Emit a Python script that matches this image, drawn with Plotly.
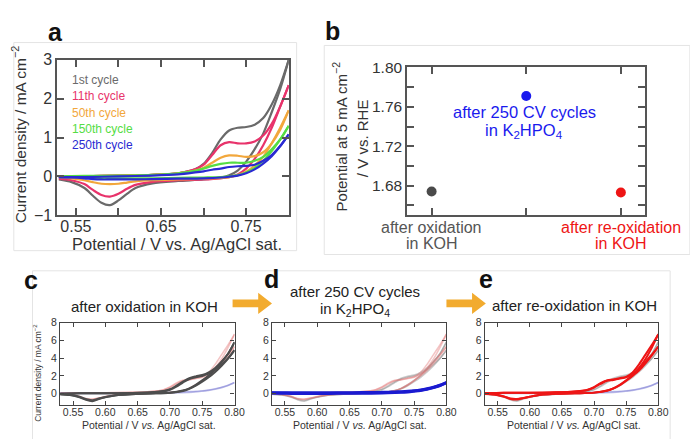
import plotly.graph_objects as go

W, H = 690, 439
FONT = "Liberation Sans, Arial, Helvetica, sans-serif"

# ---------------- data ----------------
# shared potential grids (V vs Ag/AgCl): forward and reverse sweeps
E_FWD = [0.53, 0.56, 0.60, 0.64, 0.67, 0.69, 0.70, 0.71, 0.72, 0.73, 0.74, 0.75, 0.76, 0.77, 0.78, 0.79, 0.80]
E_REV = [0.80, 0.79, 0.78, 0.77, 0.76, 0.75, 0.74, 0.73, 0.72, 0.70, 0.67, 0.64, 0.62, 0.61, 0.60, 0.59, 0.58, 0.57, 0.56, 0.545, 0.53]

# panel a: CV cycles in K2HPO4 (mA cm-2)
cycle_labels = ["1st cycle", "11th cycle", "50th cycle", "150th cycle", "250th cycle"]
cyc1_fwd = [-0.02, 0.0, 0.02, 0.04, 0.08, 0.18, 0.32, 0.6, 0.95, 1.18, 1.25, 1.27, 1.33, 1.5, 1.85, 2.35, 3.0]
cyc1_rev = [3.0, 2.25, 1.65, 1.1, 0.7, 0.38, 0.15, 0.03, -0.03, -0.08, -0.12, -0.18, -0.3, -0.45, -0.62, -0.74, -0.68, -0.5, -0.3, -0.15, -0.08]
cyc11_fwd = [-0.03, 0.0, 0.02, 0.04, 0.08, 0.18, 0.3, 0.55, 0.8, 0.88, 0.85, 0.85, 0.9, 1.05, 1.35, 1.8, 2.35]
cyc11_rev = [2.35, 1.8, 1.25, 0.8, 0.45, 0.2, 0.05, -0.02, -0.05, -0.08, -0.1, -0.14, -0.22, -0.32, -0.45, -0.52, -0.48, -0.35, -0.2, -0.1, -0.06]
cyc50_fwd = [-0.02, 0.0, 0.02, 0.04, 0.08, 0.15, 0.22, 0.35, 0.48, 0.54, 0.53, 0.5, 0.52, 0.62, 0.85, 1.2, 1.7]
cyc50_rev = [1.7, 1.25, 0.85, 0.5, 0.28, 0.12, 0.03, -0.02, -0.04, -0.06, -0.08, -0.1, -0.13, -0.16, -0.19, -0.2, -0.19, -0.15, -0.1, -0.05, -0.03]
cyc150_fwd = [0.0, 0.01, 0.02, 0.04, 0.08, 0.14, 0.2, 0.27, 0.32, 0.35, 0.35, 0.35, 0.4, 0.5, 0.7, 0.95, 1.3]
cyc150_rev = [1.3, 0.95, 0.65, 0.4, 0.22, 0.1, 0.03, 0.0, -0.02, -0.03, -0.04, -0.05, -0.05, -0.05, -0.05, -0.05, -0.05, -0.04, -0.02, 0.0, 0.0]
cyc250_fwd = [-0.02, -0.02, 0.0, 0.02, 0.05, 0.1, 0.13, 0.17, 0.2, 0.24, 0.26, 0.27, 0.3, 0.4, 0.55, 0.78, 1.08]
cyc250_rev = [1.08, 0.78, 0.52, 0.33, 0.18, 0.08, 0.02, -0.01, -0.03, -0.05, -0.06, -0.07, -0.08, -0.08, -0.08, -0.08, -0.08, -0.07, -0.05, -0.03, -0.02]

# panel b: potential at 5 mA cm-2 (V vs RHE)
b_categories = [["after oxidation", "in KOH"],
                ["after 250 CV cycles", "in K<sub>2</sub>HPO<sub>4</sub>"],
                ["after re-oxidation", "in KOH"]]
b_potential = [1.674, 1.771, 1.673]

# panels c-e: CVs (mA cm-2)
koh1_fwd = [0.0, 0.05, 0.05, 0.08, 0.15, 0.3, 0.5, 0.9, 1.35, 1.75, 1.95, 2.1, 2.4, 2.9, 3.6, 4.5, 5.8]
koh1_rev = [5.8, 4.5, 3.6, 2.75, 2.05, 1.5, 1.0, 0.6, 0.35, 0.1, 0.02, -0.05, -0.15, -0.25, -0.4, -0.6, -0.85, -0.7, -0.4, -0.15, -0.05]
koh2_fwd = [0.0, 0.05, 0.05, 0.08, 0.14, 0.27, 0.45, 0.8, 1.25, 1.65, 1.85, 2.0, 2.25, 2.7, 3.3, 4.0, 4.9]
koh2_rev = [4.9, 3.95, 3.15, 2.45, 1.85, 1.35, 0.9, 0.55, 0.3, 0.1, 0.02, -0.05, -0.15, -0.25, -0.38, -0.55, -0.75, -0.6, -0.35, -0.12, -0.05]
phos_fwd = [0.1, 0.1, 0.1, 0.1, 0.12, 0.13, 0.15, 0.17, 0.2, 0.23, 0.27, 0.33, 0.42, 0.55, 0.72, 0.95, 1.25]
phos_rev = [1.25, 0.92, 0.68, 0.5, 0.37, 0.28, 0.2, 0.15, 0.12, 0.08, 0.05, 0.04, 0.03, 0.03, 0.02, 0.02, 0.02, 0.02, 0.03, 0.05, 0.08]
reox1_fwd = [0.05, 0.1, 0.1, 0.15, 0.25, 0.45, 0.75, 1.2, 1.5, 1.6, 1.75, 1.9, 2.4, 3.3, 4.4, 5.5, 6.7]
reox1_rev = [6.7, 5.2, 3.9, 2.9, 2.1, 1.5, 1.0, 0.6, 0.35, 0.12, 0.05, 0.0, -0.1, -0.2, -0.35, -0.5, -0.65, -0.6, -0.35, -0.1, 0.0]
reox2_fwd = [0.05, 0.1, 0.1, 0.15, 0.24, 0.42, 0.7, 1.1, 1.45, 1.55, 1.7, 1.85, 2.2, 2.8, 3.6, 4.4, 5.3]
reox2_rev = [5.3, 4.3, 3.4, 2.6, 2.0, 1.45, 0.95, 0.58, 0.33, 0.12, 0.05, 0.0, -0.1, -0.2, -0.33, -0.48, -0.6, -0.55, -0.3, -0.08, 0.0]

# tick values
a_x_major = [0.55, 0.65, 0.75]
a_x_minor = [0.60, 0.70]
a_y_ticks = [-1, 0, 1, 2, 3]
b_y_major = [1.68, 1.72, 1.76, 1.80]
b_y_minor = [1.66, 1.70, 1.74, 1.78]
cde_x_ticks = [0.55, 0.60, 0.65, 0.70, 0.75, 0.80]
cde_y_ticks = [0, 2, 4, 6, 8]

# ---------------- helpers ----------------
def X(px):
    return px / W

def Y(py):
    return 1 - py / H

fig = go.Figure()

def add_cv(fwd, rev, color, width, xa, ya):
    for xs, ys in ((E_FWD, fwd), (E_REV, rev)):
        fig.add_trace(go.Scatter(x=xs, y=ys, mode="lines", xaxis=xa, yaxis=ya,
                                 line=dict(color=color, width=width, shape="spline", smoothing=0.8),
                                 showlegend=False, hoverinfo="skip"))

# panel a
a_colors = ["#6a6a6a", "#e8336b", "#f2a73c", "#55dd44", "#2a2ad2"]
a_sets = [(cyc1_fwd, cyc1_rev), (cyc11_fwd, cyc11_rev), (cyc50_fwd, cyc50_rev),
          (cyc150_fwd, cyc150_rev), (cyc250_fwd, cyc250_rev)]
for (f, r), c in zip(a_sets, a_colors):
    add_cv(f, r, c, 2.2, "x", "y")

# panel b
b_colors = ["#4a4a4a", "#1a1aee", "#ee1515"]
fig.add_trace(go.Scatter(x=[0, 1, 2], y=b_potential, mode="markers", xaxis="x2", yaxis="y2",
                         marker=dict(color=b_colors, size=10), showlegend=False, hoverinfo="skip"))

# panels c-e
cond = {
    "koh": ([(koh1_fwd, koh1_rev), (koh2_fwd, koh2_rev)], "#4d4d4d", "rgba(110,110,110,0.35)", 2.0),
    "phos": ([(phos_fwd, phos_rev)], "#1a1ad0", "rgba(90,90,200,0.35)", 3.0),
    "reox": ([(reox1_fwd, reox1_rev), (reox2_fwd, reox2_rev)], "#ee1515", "rgba(225,110,110,0.4)", 2.0),
}
panels = [("x3", "y3", "koh"), ("x4", "y4", "phos"), ("x5", "y5", "reox")]
for xa, ya, active in panels:
    for key, (cycles, col, faded, w) in cond.items():
        if key == active:
            continue
        for f, r in cycles:
            add_cv(f, r, faded, 1.6, xa, ya)
    cycles, col, faded, w = cond[active]
    for f, r in cycles:
        add_cv(f, r, col, w, xa, ya)

# ---------------- layout ----------------
def axstyle(color="#555", lw=1.5, tl=7, fs=16, standoff=0, minor=None):
    d = dict(showline=True, linecolor=color, linewidth=lw, mirror="ticks", ticks="inside",
             ticklen=tl, tickwidth=lw, tickcolor=color, showgrid=False, zeroline=False,
             ticklabelstandoff=standoff,
             tickfont=dict(family=FONT, size=fs, color="#333"))
    if minor is not None:
        d["minor"] = dict(tickvals=minor, ticks="inside", ticklen=tl, tickwidth=lw,
                          tickcolor=color, showgrid=False)
    return d

bot_y = [Y(413), Y(327)]

layout = dict(
    width=W, height=H, margin=dict(l=0, r=0, t=0, b=0),
    paper_bgcolor="white", plot_bgcolor="white", showlegend=False,
    font=dict(family=FONT, color="#333"),
    xaxis=dict(domain=[X(58), X(293)], range=[0.528, 0.80], anchor="y",
               tickvals=a_x_major, ticktext=[f"{v:.2f}" for v in a_x_major],
               **axstyle(fs=16, standoff=-4, minor=a_x_minor)),
    yaxis=dict(domain=[Y(215), Y(53)], range=[-1, 3], anchor="x",
               tickvals=a_y_ticks, **axstyle(fs=16)),
    xaxis2=dict(domain=[X(413), X(654)], range=[-0.26, 2.25], anchor="y2",
                tickvals=[0, 1, 2], showticklabels=False, **axstyle(fs=15)),
    yaxis2=dict(domain=[Y(215), Y(61)], range=[1.65, 1.80], anchor="x2",
                tickvals=b_y_major, ticktext=[f"{v:.2f}" for v in b_y_major],
                **axstyle(fs=15.5, minor=b_y_minor)),
)
bot_x_domains = [(61, 238), (276, 453), (492, 668)]
for i, (l, r) in enumerate(bot_x_domains, start=3):
    layout[f"xaxis{i}"] = dict(domain=[X(l), X(r)], range=[0.53, 0.80], anchor=f"y{i}",
                               tickvals=cde_x_ticks, ticktext=[f"{v:.2f}" for v in cde_x_ticks],
                               **axstyle(color="#444", lw=1.3, tl=4, fs=10.5, standoff=-3))
    layout[f"yaxis{i}"] = dict(domain=bot_y, range=[-1.28, 8], anchor=f"x{i}",
                               tickvals=cde_y_ticks, **axstyle(color="#444", lw=1.3, tl=4, fs=10.5))
fig.update_layout(**layout)

ann = []
def text(px, py, s, size, color="#333", angle=0, bold=False, xanchor="center"):
    if bold:
        s = f"<b>{s}</b>"
    ann.append(dict(x=X(px), y=Y(py), xref="paper", yref="paper", text=s, showarrow=False,
                    textangle=angle, xanchor=xanchor, yanchor="middle",
                    font=dict(family=FONT, size=size, color=color)))

# panel labels
text(56, 24, "a", 25, "#111", bold=True)
text(337, 23, "b", 25, "#111", bold=True)
text(31, 283, "c", 25, "#111", bold=True)
text(275, 282, "d", 25, "#111", bold=True)
text(493, 282, "e", 25, "#111", bold=True)

# panel a texts
text(19, 131, "Current density / mA cm<sup>−2</sup>", 15.5, angle=-90)
text(180, 245, "Potential / V vs. Ag/AgCl sat.", 16.5)
for k, (lab, col) in enumerate(zip(cycle_labels, a_colors)):
    text(71, 74 + 17 * k, lab, 12, col, xanchor="left")

# panel b texts
text(345, 133, "Potential at 5 mA cm<sup>−2</sup>", 15, angle=-90)
text(368, 135, "/ V vs. RHE", 15, angle=-90)
text(532, 107, b_categories[1][0], 16.5, b_colors[1])
text(532, 127, b_categories[1][1], 16.5, b_colors[1])
text(438, 228, b_categories[0][0], 16, "#555")
text(438, 245, b_categories[0][1], 16, "#555")
text(630, 228, b_categories[2][0], 16, b_colors[2])
text(630, 245, b_categories[2][1], 16, b_colors[2])

# bottom row texts
text(147, 310, "after oxidation in KOH", 15, "#222")
text(360, 295, "after 250 CV cycles", 15, "#222")
text(360, 313, "in K<sub>2</sub>HPO<sub>4</sub>", 15, "#222")
text(583, 309, "after re-oxidation in KOH", 15, "#222")
for cx in (151, 365, 582):
    text(cx, 434, "Potential / V <i>vs.</i> Ag/AgCl sat.", 10.5)
text(38, 380, "Current density / mA cm<sup>−2</sup>", 8.5, angle=-90)

fig.update_layout(annotations=ann)

# frames and arrows
shapes = []
def rect(x0, y0, x1, y1):
    shapes.append(dict(type="rect", xref="paper", yref="paper", x0=X(x0), x1=X(x1), y0=Y(y1), y1=Y(y0),
                       line=dict(color="#e4e4e4", width=1), layer="below"))
rect(14, 35, 301, 252)
rect(329, 38, 700, 256)
rect(33, 273, 680, 450)

def arrow(x0, x1, yc):
    xh = x1 - 14
    pts = [(x0, yc - 4), (xh, yc - 4), (xh, yc - 11), (x1, yc), (xh, yc + 11), (xh, yc + 4), (x0, yc + 4)]
    path = "M " + " L ".join(f"{X(a):.5f},{Y(b):.5f}" for a, b in pts) + " Z"
    shapes.append(dict(type="path", xref="paper", yref="paper", path=path,
                       fillcolor="#f2ab2f", line=dict(width=0)))
arrow(236, 276, 307)
arrow(453, 493, 307)
fig.update_layout(shapes=shapes)

fig.write_html("out.html")
